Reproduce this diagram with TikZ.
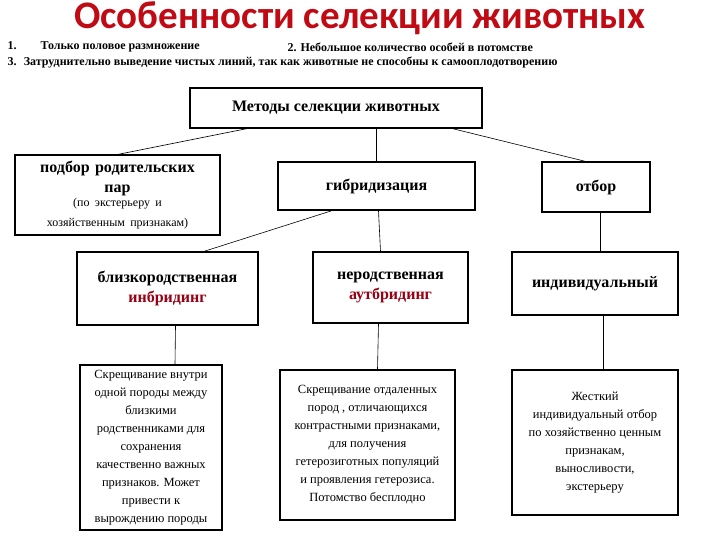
\documentclass[tikz,border=0pt]{standalone}
\usepackage{fontspec}
\setmainfont{Liberation Serif}
\newfontfamily\titlefont{Carlito}
\definecolor{tred}{RGB}{192,10,20}
\definecolor{dred}{RGB}{150,0,20}
\begin{document}
\begin{tikzpicture}[x=1pt,y=-1pt,
  bx/.style={draw,line width=1.6pt,align=center,inner sep=2pt,font=\bfseries\fontsize{16}{20}\selectfont},
  dx/.style={draw,line width=1.6pt,align=center,inner sep=2pt,font=\fontsize{12.5}{18}\selectfont},
  ln/.style={line width=0.6pt}]
\useasboundingbox (0,0) rectangle (720,540);
\node[font=\titlefont\bfseries\fontsize{39}{42}\selectfont,text=tred] (title) at (360,18) {Особенности селекции животных};
\node[anchor=west,font=\bfseries\fontsize{12}{14}\selectfont] (l1) at (4,47) {1.\qquad Только половое размножение};
\node[anchor=west,font=\bfseries\fontsize{12}{14}\selectfont] (l2) at (284,47) {2. Небольшое количество особей в потомстве};
\node[anchor=west,font=\bfseries\fontsize{12}{14}\selectfont] (l3) at (4,63) {3.\; Затруднительно выведение чистых линий, так как животные не способны к самооплодотворению};
\node[bx,minimum width=292,minimum height=40] (m) at (336,108) {Методы селекции животных};
\node[bx,minimum width=205,minimum height=80,text width=200] (p) at (117.5,195) {подбор родительских\\ пар\\[-1pt]{\mdseries\fontsize{12}{15}\selectfont (по экстерьеру и\\ хозяйственным признакам)}};
\node[bx,minimum width=197,minimum height=48] (g) at (376.5,186) {гибридизация};
\node[bx,minimum width=108,minimum height=50] (o) at (596,187) {отбор};
\node[bx,minimum width=181,minimum height=73] (b) at (167.5,288.5) {близкородственная\\ \textcolor{dred}{инбридинг}};
\node[bx,minimum width=155,minimum height=71] (n) at (390.5,287.5) {неродственная\\ \textcolor{dred}{аутбридинг}};
\node[bx,minimum width=166,minimum height=63] (i) at (595,283.5) {индивидуальный};
\node[dx,minimum width=142,minimum height=165] (d1) at (151,447.5) {Скрещивание внутри\\ одной породы между\\ близкими\\ родственниками для\\ сохранения\\ качественно важных\\ признаков. Может\\ привести к\\ вырождению породы};
\node[dx,minimum width=175,minimum height=150] (d2) at (367.5,445) {Скрещивание отдаленных\\ пород , отличающихся\\ контрастными признаками,\\ для получения\\ гетерозиготных популяций\\ и проявления гетерозиса.\\ Потомство бесплодно};
\node[dx,minimum width=166,minimum height=145] (d3) at (595,442.5) {Жесткий\\ индивидуальный отбор\\ по хозяйственно ценным\\ признакам,\\ выносливости,\\ экстерьеру};
\coordinate (m1) at (250,128); \coordinate (m3) at (450,128);
\coordinate (p1) at (115,155); \coordinate (o1) at (588,162);
\draw[ln] (m1) -- (p1);
\draw[ln] (m3) -- (o1);
\draw[ln] (m.south -| g.north) -- (g.north);
\draw[ln] ([xshift=-45]g.south) -- ([xshift=37]b.north);
\draw[ln] ([xshift=2]g.south) -- ([xshift=-10]n.north);
\draw[ln] ([xshift=4]o.south) -- ([xshift=5]i.north);
\draw[ln] ([xshift=8]b.south) -- ([xshift=24]d1.north);
\draw[ln] ([xshift=-12]n.south) -- ([xshift=10]d2.north);
\draw[ln] ([xshift=8]i.south) -- ([xshift=8]d3.north);
\end{tikzpicture}
\end{document}
